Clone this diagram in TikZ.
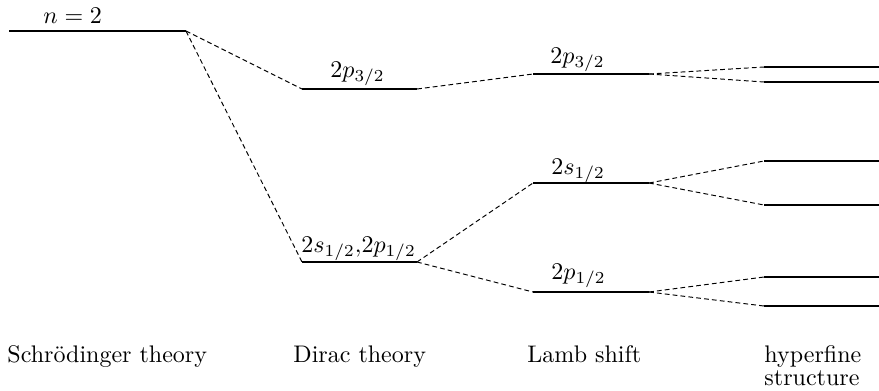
\documentclass[tikz,border=0pt]{standalone}
\begin{document}
\begin{tikzpicture}[x=0.4167pt,y=-0.4167pt,
  level/.style={line width=0.8pt},
  link/.style={line width=0.4pt,dash pattern=on 2pt off 1.3pt},
  lbl/.style={inner sep=0pt,anchor=base west},
  captxt/.style={inner sep=0pt,anchor=base west}]
\useasboundingbox (0,0) rectangle (879,390);
% level end points
\coordinate (nL) at (9,31);   \coordinate (nR) at (186,31);
\coordinate (dpL) at (302,89); \coordinate (dpR) at (417,89);
\coordinate (dsL) at (302,262); \coordinate (dsR) at (417,262);
\coordinate (lpL) at (533,74); \coordinate (lpR) at (649,74);
\coordinate (lsL) at (533,183); \coordinate (lsR) at (649,183);
\coordinate (lqL) at (533,292); \coordinate (lqR) at (649,292);
\coordinate (h1L) at (764,67);  \coordinate (h1R) at (879,67);
\coordinate (h2L) at (764,82);  \coordinate (h2R) at (879,82);
\coordinate (h3L) at (764,161); \coordinate (h3R) at (879,161);
\coordinate (h4L) at (764,205); \coordinate (h4R) at (879,205);
\coordinate (h5L) at (764,277); \coordinate (h5R) at (879,277);
\coordinate (h6L) at (764,306); \coordinate (h6R) at (879,306);
% levels
\foreach \a in {n,dp,ds,lp,ls,lq,h1,h2,h3,h4,h5,h6}
  \draw[level] (\a L) -- (\a R);
% connectors
\draw[link] (nR) -- (dpL);
\draw[link] (nR) -- (dsL);
\draw[link] (dpR) -- (lpL);
\draw[link] (dsR) -- (lsL);
\draw[link] (dsR) -- (lqL);
\draw[link] (lpR) -- (h1L);
\draw[link] (lpR) -- (h2L);
\draw[link] (lsR) -- (h3L);
\draw[link] (lsR) -- (h4L);
\draw[link] (lqR) -- (h5L);
\draw[link] (lqR) -- (h6L);
% level labels
\node[lbl] (tn) at (43,23) {$n=2$};
\node[lbl] (tdp) at (330,77) {$2p_{3/2}$};
\node[lbl] (tds) at (301,252) {$2s_{1/2}{,}2p_{1/2}$};
\node[lbl] (tlp) at (550,63) {$2p_{3/2}$};
\node[lbl] (tls) at (551,174) {$2s_{1/2}$};
\node[lbl] (tlq) at (551,279) {$2p_{1/2}$};
% captions
\node[captxt] (c1) at (7,362) {Schr\"odinger theory};
\node[captxt] (c2) at (293,362) {Dirac theory};
\node[captxt] (c3) at (527,362) {Lamb shift};
\node[inner sep=0pt,anchor=north west,align=left,font=\fontsize{10}{9.5}\selectfont] (c4) at (764,345.3) {hyperfine\\structure};
\end{tikzpicture}
\end{document}
